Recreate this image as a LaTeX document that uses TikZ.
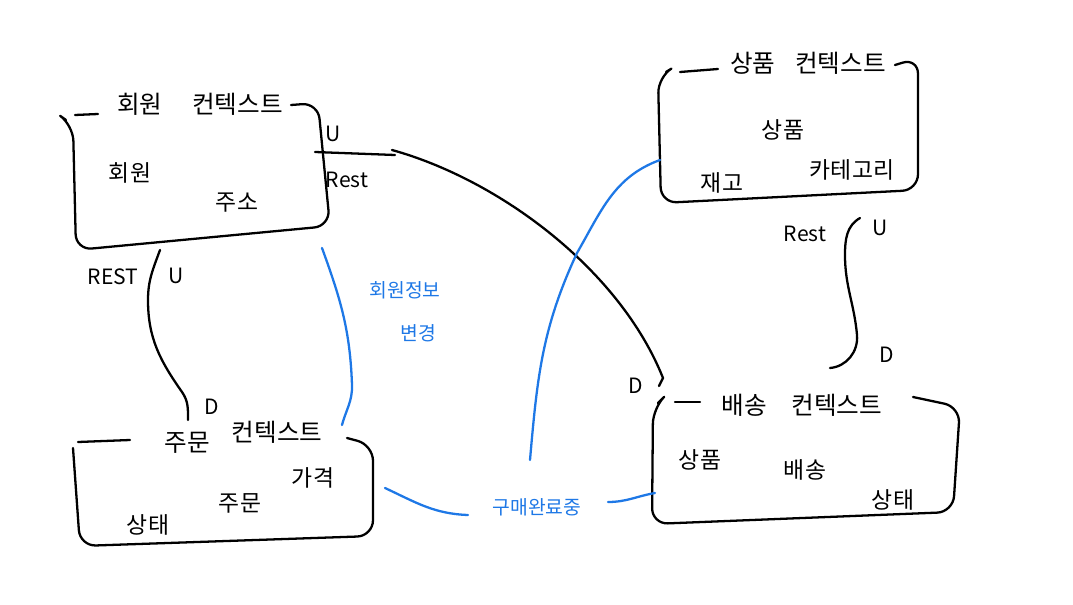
\documentclass[tikz,border=0pt]{standalone}
\usepackage{fontspec}
\setmainfont{Noto Sans CJK KR}
\definecolor{penblue}{RGB}{30,120,230}
\begin{document}
\begin{tikzpicture}[x=0.02cm, y=-0.02cm,
		pen/.style = {line width=1.3pt, line cap=round, line join=round},
		ctxbox/.style = {pen, rounded corners=9pt},
		bluepen/.style = {pen, draw=penblue},
		title/.style = {font=\fontsize{14}{16}\selectfont, inner sep=1pt},
		word/.style = {font=\fontsize{13}{15}\selectfont, inner sep=1pt},
		tag/.style = {font=\fontsize{12}{14}\selectfont, inner sep=1pt},
		note/.style = {font=\fontsize{11}{13}\selectfont, text=penblue, inner sep=1pt, align=center}]
		\useasboundingbox (0,0) rectangle (1073,605);
		% member context
		\draw[pen] (75,115) -- (98,114);
		\draw[ctxbox] (66,120) -- (73,125) -- (76,250) -- (330,226) -- (318,103) -- (291,105);
		\node[title] (memT) at (200,104) {회원\hspace{1.2em}컨텍스트};
		\node[word] (mem1) at (130,173) {회원};
		\node[word] (mem2) at (237,203) {주소};
		% product context
		\draw[pen] (680,72) -- (718,69);
		\draw[ctxbox] (666,72) -- (658,77) -- (661,203) -- (918,190) -- (918,58) -- (895,65);
		\node[title] (prdT) at (808,63) {상품\hspace{0.8em}컨텍스트};
		\node[word] (prd1) at (783,130) {상품};
		\node[word] (prd2) at (722,183) {재고};
		\node[word] (prd3) at (852,170) {카테고리};
		% order context
		\draw[pen] (78,442) -- (130,440);
		\draw[ctxbox] (73,448) -- (80,546) -- (373,536) -- (373,445) -- (347,438);
		\node[title] (ordT1) at (187,443) {주문};
		\node[title] (ordT2) at (277,432) {컨텍스트};
		\node[word] (ord1) at (313,478) {가격};
		\node[word] (ord2) at (240,503) {주문};
		\node[word] (ord3) at (148,525) {상태};
		% delivery context
		\draw[pen] (675,402) -- (700,402);
		\draw[ctxbox] (658,403) -- (653,408) -- (652,524) -- (953,512) -- (960,407) -- (913,397);
		\node[title] (dlvT) at (802,405) {배송\hspace{1em}컨텍스트};
		\node[word] (dlv1) at (700,460) {상품};
		\node[word] (dlv2) at (805,470) {배송};
		\node[word] (dlv3) at (893,500) {상태};
		% connector end points
		\coordinate (memR) at (315,152);
		\coordinate (memB) at (160,250);
		\coordinate (memBR) at (322,248);
		\coordinate (prdL) at (660,160);
		\coordinate (prdB) at (860,218);
		\coordinate (ordT) at (188,420);
		\coordinate (ordTR) at (342,425);
		\coordinate (ordR) at (385,488);
		\coordinate (dlvTL) at (663,378);
		\coordinate (dlvT) at (830,368);
		\coordinate (dlvL) at (655,493);
		% black connectors
		\draw[pen] (memR) -- (395,155);
		\draw[pen] (392,150) .. controls (500,180) and (620,270) .. (dlvTL) -- (659,386);
		\draw[pen] (memB) to[out=-110,in=90] (148,300) to[out=-90,in=125] (182,392) to[out=-55,in=90] (ordT);
		\draw[pen] (prdB) to[out=-150,in=90] (845,255) to[out=-90,in=95] (857,335) to[out=-85,in=5] (dlvT);
		% blue connectors
		\draw[bluepen] (memBR) to[out=-70,in=92] (352,385) to[out=-88,in=75] (ordTR);
		\draw[bluepen] (prdL) to[out=200,in=60] (577,253) to[out=-115,in=85] (530,460);
		\draw[bluepen] (ordR) to[out=-25,in=178] (468,515);
		\draw[bluepen] (608,502) to[out=0,in=190] (dlvL);
		% labels
		\node[tag] (u1) at (333,134) {U};
		\node[tag] (r1) at (347,180) {Rest};
		\node[tag] (r2) at (113,277) {REST};
		\node[tag] (u2) at (176,276) {U};
		\node[tag] (d2) at (212,407) {D};
		\node[tag] (r3) at (805,234) {Rest};
		\node[tag] (u3) at (880,228) {U};
		\node[tag] (d3) at (887,355) {D};
		\node[tag] (d1) at (636,386) {D};
		\node[note] (chg1) at (405,290) {회원정보};
		\node[note] (chg2) at (418,333) {변경};
		\node[note] (buy) at (537,507) {구매완료중};
\end{tikzpicture}
\end{document}
